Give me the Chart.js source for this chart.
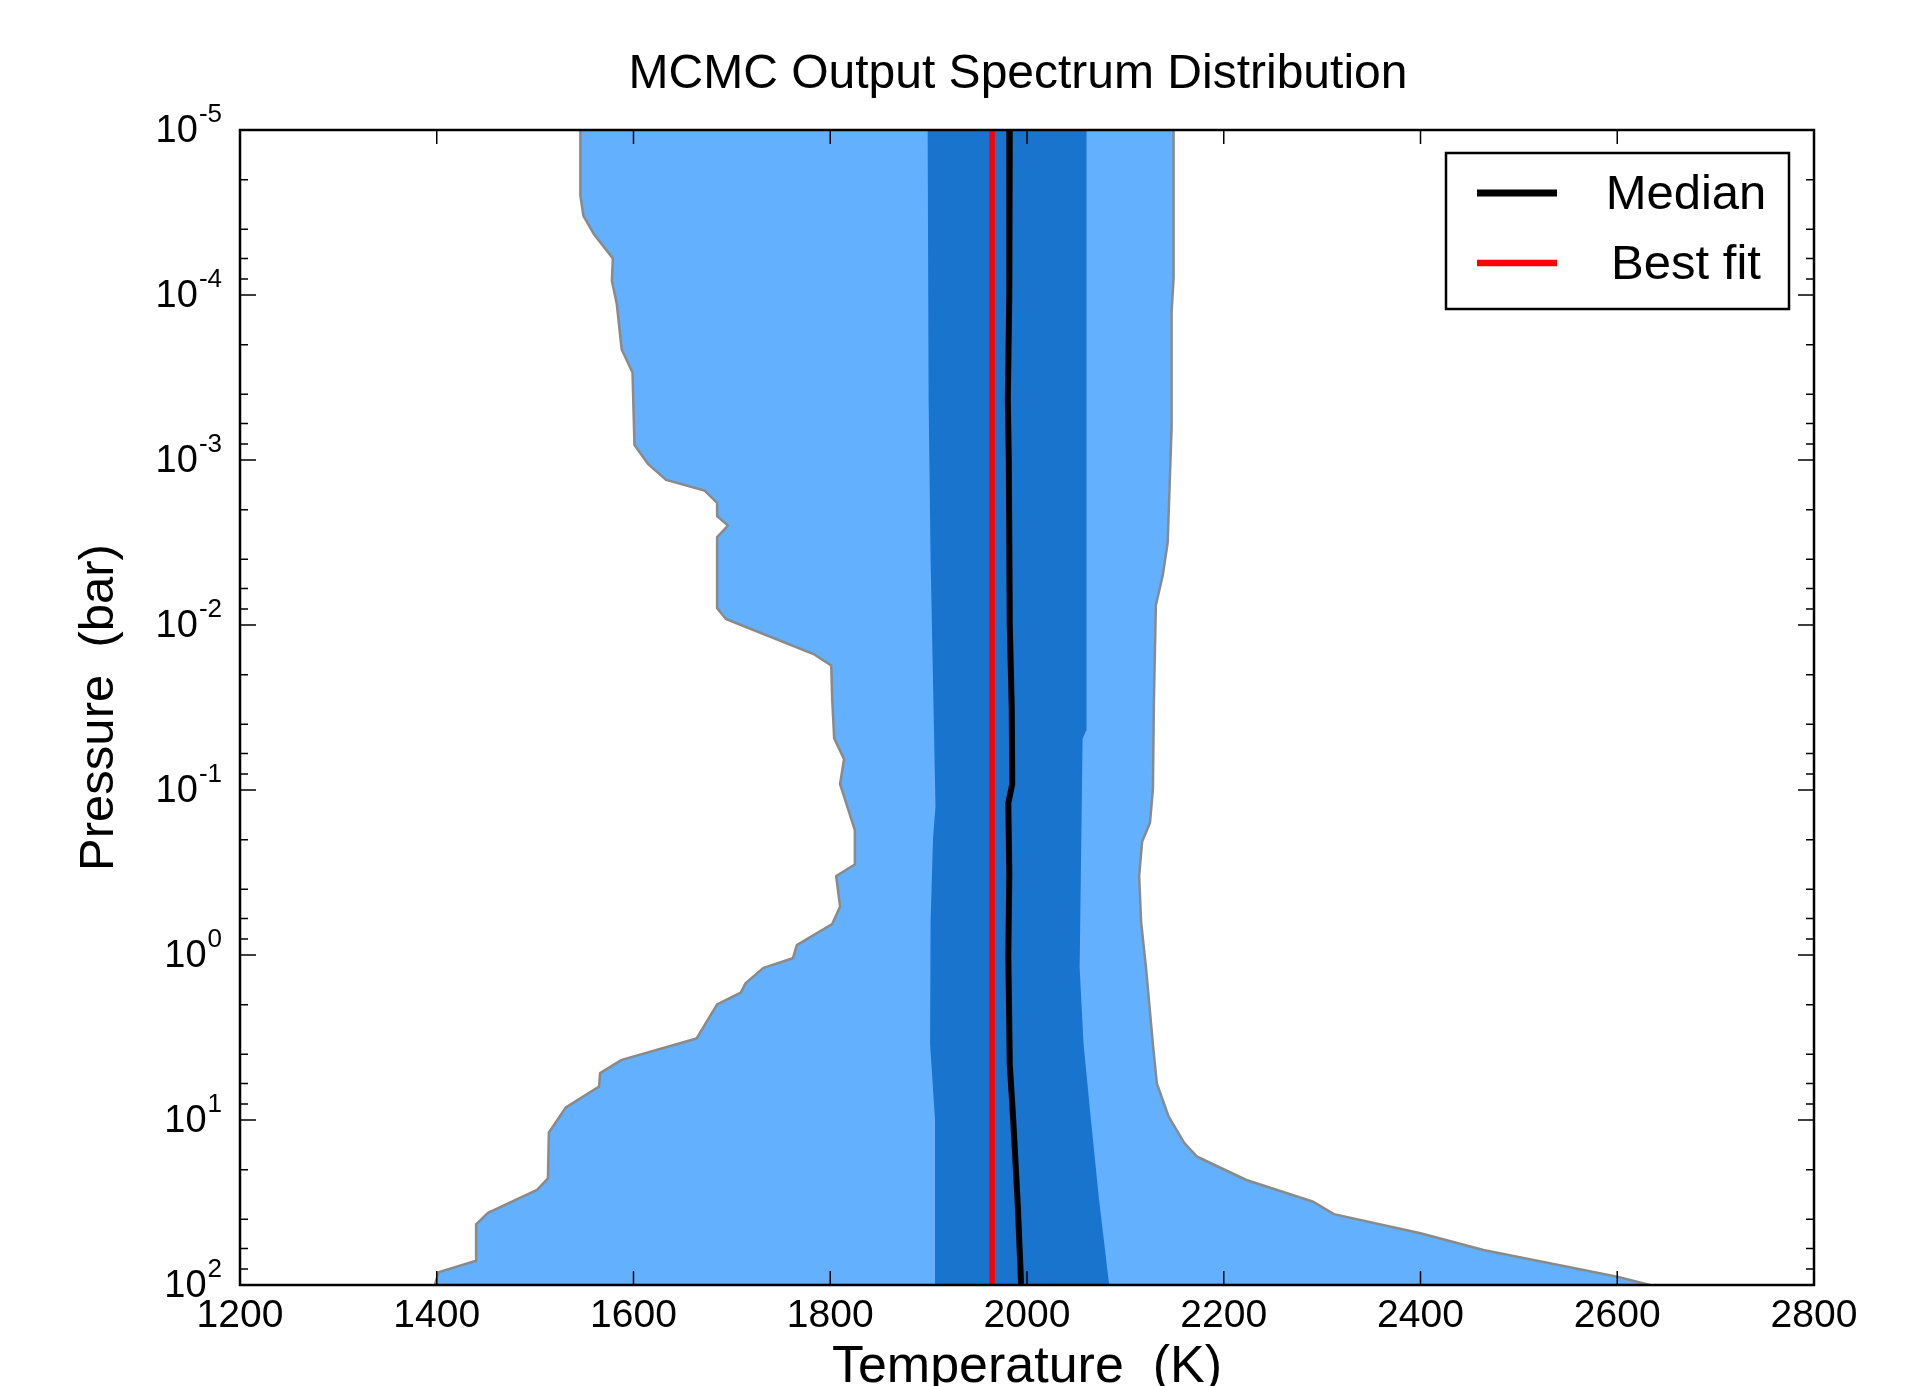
<!DOCTYPE html>
<html>
<head>
<meta charset="utf-8">
<title>MCMC Output Spectrum Distribution</title>
<script src="https://cdn.jsdelivr.net/npm/chart.js@4.4.1/dist/chart.umd.min.js"></script>
<style>
  html, body { margin: 0; padding: 0; background: #fff; }
  #wrap { width: 1910px; height: 1386px; position: relative; }
</style>
</head>
<body>
<div id="wrap"><canvas id="grafico"></canvas></div>
<script>
// ---- values: pressure (bar) / temperature (K) ----

// outer (light) band, left edge, top to bottom
const outerLeftP = [1e-5, 2.5e-5, 3.3e-5, 4.3e-5, 6.0e-5, 8.2e-5, 1.13e-4, 2.14e-4, 2.95e-4, 8.1e-4,
  1.06e-3, 1.32e-3, 1.53e-3, 1.82e-3, 2.19e-3, 2.5e-3, 2.93e-3, 7.9e-3, 9.2e-3, 1.5e-2,
  1.76e-2, 2.85e-2, 4.86e-2, 6.5e-2, 9.2e-2, 0.175, 0.283, 0.332, 0.509, 0.649,
  0.871, 1.047, 1.197, 1.48, 1.69, 1.99, 3.21, 4.32, 5.2, 6.27,
  8.41, 11.9, 22.6, 26.5, 36.5, 42.9, 71.3, 83.6, 100];
const outerLeftT = [1546, 1546, 1549, 1560, 1579, 1578, 1583, 1588, 1599, 1601,
  1615, 1633, 1672, 1685, 1685, 1696, 1685, 1685, 1694, 1783,
  1801, 1802, 1804, 1814, 1810, 1825, 1825, 1806, 1810, 1802,
  1766, 1762, 1732, 1714, 1709, 1685, 1664, 1588, 1566, 1565,
  1531, 1514, 1513, 1502, 1452, 1440, 1440, 1402, 1398];

// outer (light) band, right edge, top to bottom
const outerRightP = [1e-5, 7.9e-5, 1.26e-4, 6.3e-4, 3.16e-3, 5.0e-3, 7.6e-3, 2.85e-2, 9.8e-2, 0.158,
  0.206, 0.332, 0.631, 1.2, 3.48, 6.0, 9.55, 13.8, 16.7, 23.1,
  31.3, 37.2, 48.6, 61.4, 89.1, 100];
const outerRightT = [2149, 2149, 2147, 2147, 2143, 2138, 2131, 2129, 2128, 2125,
  2117, 2114, 2116, 2121, 2128, 2132, 2144, 2160, 2173, 2223,
  2291, 2312, 2400, 2464, 2600, 2633];

// inner (dark) band
const innerLeftP = [1e-5, 4.3e-4, 4e-3, 3.2e-2, 0.126, 0.195, 0.631, 3.47, 10, 100];
const innerLeftT = [1899, 1900, 1902, 1905, 1907, 1904.5, 1902, 1901.5, 1906.5, 1906.5];
const innerRightP = [1e-5, 4.37e-2, 4.9e-2, 0.24, 1.2, 3.47, 10, 29.5, 100];
const innerRightT = [2060.5, 2060, 2056.5, 2055, 2053.5, 2057.5, 2065, 2073, 2083.5];

// median and best fit profiles
const medianP = [1e-5, 1e-4, 4.3e-4, 1e-3, 1e-2, 3.2e-2, 9.2e-2, 0.12, 0.32, 1, 4.6, 10, 31.6, 70.8, 100];
const medianT = [1982.5, 1982, 1980.5, 1981.5, 1982.5, 1984.5, 1985, 1981, 1982, 1981, 1982.5, 1986, 1990.5, 1993, 1994];
const bestP = [1e-5, 100];
const bestT = [1964.5, 1964.5];

// ticks
const xTicks = [1200, 1400, 1600, 1800, 2000, 2200, 2400, 2600, 2800];
const yExpoentes = [-5, -4, -3, -2, -1, 0, 1, 2];
const yMenores = [2, 4, 6, 8];

const FONTE = '"Liberation Sans", Arial, sans-serif';
Chart.defaults.font.family = FONTE;
Chart.defaults.color = '#000';

function pontos(T, P) {
    return T.map((t, i) => ({x: t, y: P[i]}));
}

// closed shape: left edge down, right edge back up
function faixa(tL, pL, tR, pR) {
    const pts = pontos(tL, pL);
    for (let i = tR.length - 1; i >= 0; i--) pts.push({x: tR[i], y: pR[i]});
    return pts;
}

// frame, inward ticks and 10^n labels
const moldura = {
    id: 'moldura',
    afterDatasetsDraw(chart) {
        const {ctx, chartArea: a, scales: {x, y}} = chart;
        ctx.save();
        ctx.strokeStyle = '#000';
        ctx.lineWidth = 1.5;
        ctx.beginPath();
        xTicks.forEach(v => {
            const px = x.getPixelForValue(v);
            ctx.moveTo(px, a.bottom); ctx.lineTo(px, a.bottom - 14);
            ctx.moveTo(px, a.top); ctx.lineTo(px, a.top + 14);
        });
        yExpoentes.forEach((e, i) => {
            const py = y.getPixelForValue(Math.pow(10, e));
            ctx.moveTo(a.left, py); ctx.lineTo(a.left + 16, py);
            ctx.moveTo(a.right, py); ctx.lineTo(a.right - 16, py);
            if (i < yExpoentes.length - 1) {
                yMenores.forEach(m => {
                    const pm = y.getPixelForValue(m * Math.pow(10, e));
                    ctx.moveTo(a.left, pm); ctx.lineTo(a.left + 8, pm);
                    ctx.moveTo(a.right, pm); ctx.lineTo(a.right - 8, pm);
                });
            }
        });
        ctx.stroke();

        ctx.lineWidth = 2.5;
        ctx.strokeRect(a.left, a.top, a.right - a.left, a.bottom - a.top);

        ctx.fillStyle = '#000';
        ctx.textBaseline = 'middle';
        const xr = a.left - 18;
        yExpoentes.forEach(e => {
            const py = y.getPixelForValue(Math.pow(10, e));
            const sup = String(e);
            ctx.font = '26px ' + FONTE;
            const ws = ctx.measureText(sup).width;
            ctx.textAlign = 'left';
            ctx.fillText(sup, xr - ws, py - 15);
            ctx.font = '38px ' + FONTE;
            ctx.textAlign = 'right';
            ctx.fillText('10', xr - ws - 1, py + 2);
        });
        ctx.restore();
    }
};

// legend box in the upper right corner
const legenda = {
    id: 'legenda',
    afterDraw(chart) {
        const {ctx, chartArea: a} = chart;
        const itens = chart.data.datasets.filter(d => d.naLegenda);
        const w = 343, h = 156;
        const bx = a.right - 25 - w, by = a.top + 23;
        ctx.save();
        ctx.fillStyle = '#fff';
        ctx.fillRect(bx, by, w, h);
        ctx.strokeStyle = '#000';
        ctx.lineWidth = 2.5;
        ctx.strokeRect(bx, by, w, h);
        ctx.font = '49px ' + FONTE;
        ctx.textAlign = 'center';
        ctx.textBaseline = 'middle';
        itens.forEach((d, i) => {
            const ly = by + 40 + i * 70;
            ctx.strokeStyle = d.borderColor;
            ctx.lineWidth = d.borderWidth + 1;
            ctx.beginPath();
            ctx.moveTo(bx + 31, ly);
            ctx.lineTo(bx + 111, ly);
            ctx.stroke();
            ctx.fillStyle = '#000';
            ctx.fillText(d.label, bx + 240, ly + 2);
        });
        ctx.restore();
    }
};

const grafico = document.getElementById('grafico');

const data = {
    datasets: [
        {
            label: 'Median',
            naLegenda: true,
            data: pontos(medianT, medianP),
            borderColor: '#000000',
            borderWidth: 6,
            pointRadius: 0,
            fill: false,
            order: 1
        },
        {
            label: 'Best fit',
            naLegenda: true,
            data: pontos(bestT, bestP),
            borderColor: '#ff0000',
            borderWidth: 5.5,
            pointRadius: 0,
            fill: false,
            order: 2
        },
        {
            label: 'inner',
            data: faixa(innerLeftT, innerLeftP, innerRightT, innerRightP),
            backgroundColor: '#1874cd',
            borderWidth: 0,
            pointRadius: 0,
            fill: 'shape',
            order: 3
        },
        {
            label: 'outer',
            data: faixa(outerLeftT, outerLeftP, outerRightT, outerRightP),
            backgroundColor: '#63b0ff',
            borderColor: '#8a8a8a',
            borderWidth: 2.5,
            borderJoinStyle: 'round',
            pointRadius: 0,
            fill: 'shape',
            order: 4
        }
    ]
};

const config = {
    type: 'line',
    data: data,
    plugins: [moldura, legenda],
    options: {
        responsive: true,
        maintainAspectRatio: false,
        animation: false,
        events: [],
        // left padding centres the title like the original; y axis is narrow
        layout: { padding: { left: 222, right: 96, top: 0, bottom: 0 } },
        scales: {
            x: {
                type: 'linear',
                min: 1200,
                max: 2800,
                afterBuildTicks: s => { s.ticks = xTicks.map(v => ({value: v})); },
                afterFit: s => { s.height = 101; },
                grid: { display: false, drawTicks: false },
                border: { display: false },
                ticks: {
                    padding: 8,
                    maxRotation: 0,
                    autoSkip: false,
                    color: '#000',
                    font: { size: 39 },
                    callback: v => String(v)
                },
                title: {
                    display: true,
                    text: 'Temperature  (K)',
                    color: '#000',
                    font: { size: 52, lineHeight: 0.7 },
                    padding: { top: 0, bottom: 0 }
                }
            },
            y: {
                type: 'logarithmic',
                min: 1e-5,
                max: 100,
                reverse: true,
                afterFit: s => { s.width = 18; },
                grid: { display: false, drawTicks: false },
                border: { display: false },
                ticks: { display: false },
                title: {
                    display: true,
                    text: 'Pressure  (bar)',
                    color: '#000',
                    font: { size: 49 },
                    padding: { top: -152, bottom: 0 }
                }
            }
        },
        plugins: {
            legend: { display: false },
            tooltip: { enabled: false },
            title: {
                display: true,
                text: 'MCMC Output Spectrum Distribution',
                fullSize: true,
                color: '#000',
                font: { size: 48, weight: 'normal' },
                padding: { top: 46, bottom: 26.4 }
            }
        }
    }
};

const grafico_1 = new Chart(grafico, config);
</script>
</body>
</html>
